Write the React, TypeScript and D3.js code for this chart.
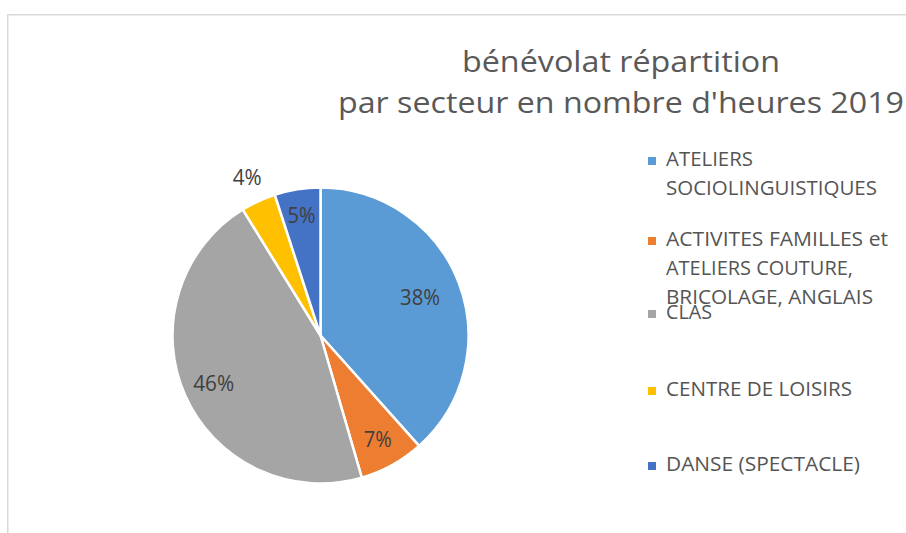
import React from "react";
import * as d3 from "d3";

const categories = [
  "ATELIERS SOCIOLINGUISTIQUES",
  "ACTIVITES FAMILLES et ATELIERS COUTURE, BRICOLAGE, ANGLAIS",
  "CLAS",
  "CENTRE DE LOISIRS",
  "DANSE (SPECTACLE)",
];
const values = [38.4, 7.1, 45.7, 3.8, 5.0];
const colors = ["#5B9BD5", "#ED7D31", "#A5A5A5", "#FFC000", "#4472C4"];
const legendLines = [
  ["ATELIERS", "SOCIOLINGUISTIQUES"],
  ["ACTIVITES FAMILLES et", "ATELIERS COUTURE,", "BRICOLAGE, ANGLAIS"],
  ["CLAS"],
  ["CENTRE DE LOISIRS"],
  ["DANSE (SPECTACLE)"],
];
const legendWidths = [
  [87, 211],
  [222, 187, 207],
  [46],
  [186],
  [194],
];
const titleLines = ["bénévolat répartition", "par secteur en nombre d'heures 2019"];

const FONT = "'Open Sans', 'Noto Sans', sans-serif";

export default function App() {
  const W = 906;
  const H = 533;
  const cx = 320.5;
  const cy = 335.5;
  const r = 148;

  const pie = d3.pie<number>().sort(null).value((d) => d);
  const arcs = pie(values);
  const arc = d3.arc<d3.PieArcDatum<number>>().innerRadius(0).outerRadius(r);
  const total = d3.sum(values);

  const labelRadius = [0.72, 0.8, 0.79, 1.18, 0.82];
  const labelWidths = [40, 28, 41, 29, 28];

  const squareTops = [157, 237, 310, 387, 462];
  const lineH = 28.8;

  return (
    <svg
      width={W}
      height={H}
      style={{ position: "absolute", left: 0, top: 0, background: "#fff" }}
      fontFamily={FONT}
    >
      <rect x={0} y={0} width={W} height={H} fill="#fff" />
      <path d={`M7.75,${H} L7.75,14.75 L${W},14.75`} fill="none" stroke="#d9d9d9" strokeWidth={1.5} />

      {titleLines.map((t, i) => (
        <text
          key={i}
          x={621}
          y={72 + i * 41}
          textAnchor="middle"
          fontSize={29.5}
          fill="#595959"
          textLength={i === 0 ? 318 : 566}
          lengthAdjust="spacingAndGlyphs"
        >
          {t}
        </text>
      ))}

      <g transform={`translate(${cx},${cy})`}>
        {arcs.map((a, i) => (
          <path key={i} d={arc(a) || ""} fill={colors[i]} stroke="#fff" strokeWidth={2.5} strokeLinejoin="round" />
        ))}
        {arcs.map((a, i) => {
          const mid = (a.startAngle + a.endAngle) / 2;
          const lr = r * labelRadius[i];
          const x = Math.sin(mid) * lr;
          const y = -Math.cos(mid) * lr;
          return (
            <text
              key={"l" + i}
              x={x}
              y={y}
              dy="0.36em"
              textAnchor="middle"
              fontSize={21.5}
              fill="#404040"
              textLength={labelWidths[i]}
              lengthAdjust="spacingAndGlyphs"
            >
              {`${Math.round((values[i] / total) * 100)}%`}
            </text>
          );
        })}
      </g>

      {categories.map((c, i) => (
        <g key={c}>
          <rect x={648} y={squareTops[i]} width={8} height={8} fill={colors[i]} />
          {legendLines[i].map((ln, j) => (
            <text
              key={j}
              x={666}
              y={squareTops[i] + 9 + j * lineH}
              fontSize={20.5}
              fill="#555555"
              textLength={legendWidths[i][j]}
              lengthAdjust="spacingAndGlyphs"
            >
              {ln}
            </text>
          ))}
        </g>
      ))}
    </svg>
  );
}
